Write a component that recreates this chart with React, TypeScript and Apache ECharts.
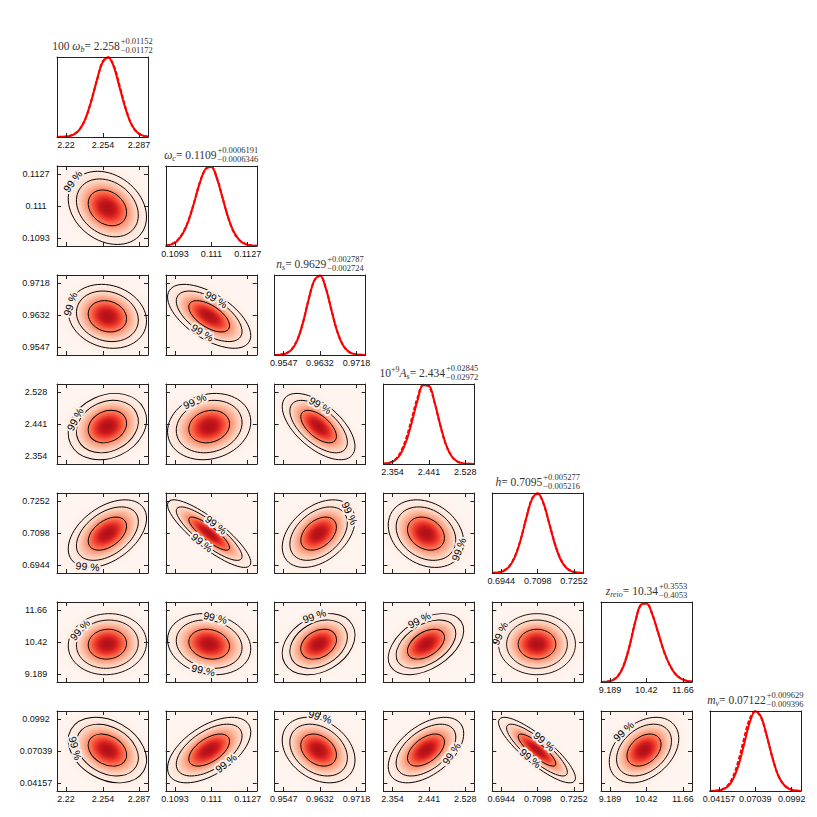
import React, { useEffect, useRef } from "react";
import * as echarts from "echarts";

// ---------------- data ----------------
const paramTicks: string[][] = [
  ["2.22", "2.254", "2.287"],
  ["0.1093", "0.111", "0.1127"],
  ["0.9547", "0.9632", "0.9718"],
  ["2.354", "2.441", "2.528"],
  ["0.6944", "0.7098", "0.7252"],
  ["9.189", "10.42", "11.66"],
  ["0.04157", "0.07039", "0.0992"],
];
const means = [2.258, 0.1109, 0.9629, 2.434, 0.7095, 10.34, 0.07122];
const errPlus = [0.01152, 0.0006191, 0.002787, 0.02845, 0.005277, 0.3553, 0.009629];
const errMinus = [0.01172, 0.0006346, 0.002724, 0.02972, 0.005216, 0.4053, 0.009396];

const correlations: number[][] = [
  [],
  [-0.25],
  [-0.15, -0.6],
  [0.2, 0.15, -0.6],
  [0.45, -0.85, 0.4, -0.25],
  [0.05, -0.15, 0.3, 0.45, 0.0],
  [-0.3, 0.55, -0.3, 0.5, -0.85, 0.35],
];

// 1D posteriors, 17 samples evenly spread across each axis range
const posteriorSolid: number[][] = [
  [0.0004, 0.002, 0.0093, 0.032, 0.095, 0.227, 0.44, 0.71, 0.93, 0.998, 0.874, 0.62, 0.364, 0.17, 0.065, 0.02, 0.005],
  [0.006, 0.021, 0.063, 0.155, 0.316, 0.547, 0.793, 0.966, 0.987, 0.84, 0.595, 0.35, 0.171, 0.069, 0.024, 0.0068, 0.0016],
  [0.0007, 0.0043, 0.019, 0.068, 0.187, 0.407, 0.696, 0.936, 0.993, 0.835, 0.558, 0.296, 0.125, 0.042, 0.011, 0.0024, 0.0004],
  [0.0029, 0.0122, 0.043, 0.122, 0.282, 0.523, 0.793, 0.985, 0.98, 0.771, 0.487, 0.244, 0.097, 0.031, 0.0079, 0.0016, 0.0003],
  [0.0014, 0.0066, 0.025, 0.08, 0.201, 0.413, 0.688, 0.923, 0.998, 0.877, 0.625, 0.364, 0.171, 0.065, 0.02, 0.0051, 0.0011],
  [0.0007, 0.0042, 0.02, 0.073, 0.205, 0.44, 0.744, 0.967, 0.982, 0.849, 0.63, 0.4, 0.223, 0.106, 0.044, 0.015, 0.0046],
  [0.0005, 0.0027, 0.0125, 0.046, 0.135, 0.31, 0.576, 0.85, 0.996, 0.93, 0.697, 0.42, 0.2, 0.079, 0.025, 0.0062, 0.0012],
];
const posteriorDashed: number[][] = [
  [0.0005, 0.003, 0.011, 0.035, 0.1, 0.23, 0.45, 0.7, 0.94, 0.995, 0.89, 0.645, 0.38, 0.175, 0.062, 0.02, 0.005],
  [0.007, 0.024, 0.07, 0.165, 0.325, 0.55, 0.8, 0.96, 0.99, 0.85, 0.6, 0.345, 0.165, 0.07, 0.026, 0.008, 0.002],
  [0.0008, 0.005, 0.021, 0.072, 0.19, 0.41, 0.7, 0.93, 0.99, 0.84, 0.56, 0.3, 0.128, 0.044, 0.012, 0.003, 0.0005],
  [0.004, 0.016, 0.052, 0.145, 0.32, 0.57, 0.83, 0.99, 0.97, 0.765, 0.48, 0.24, 0.095, 0.03, 0.008, 0.002, 0.0004],
  [0.0016, 0.007, 0.027, 0.085, 0.21, 0.42, 0.69, 0.93, 0.99, 0.87, 0.63, 0.375, 0.18, 0.068, 0.021, 0.005, 0.001],
  [0.0008, 0.005, 0.022, 0.078, 0.215, 0.45, 0.75, 0.96, 0.985, 0.85, 0.625, 0.395, 0.225, 0.11, 0.045, 0.015, 0.005],
  [0.0006, 0.0035, 0.016, 0.058, 0.165, 0.37, 0.65, 0.9, 0.995, 0.92, 0.69, 0.42, 0.2, 0.08, 0.026, 0.006, 0.0012],
];

// contour radii (in sigma units) and "99 %" label spots [row, col, angleDeg, radius]
const contourLevels = [1.52, 2.45, 3.1];
const contourLabelSpots: number[][] = [
  [1, 0, 180, 3.2],
  [2, 0, 180, 3.0],
  [2, 1, 95, 2.45], [2, 1, 275, 2.45],
  [3, 0, 135, 2.8],
  [3, 1, 100, 2.8],
  [3, 2, 110, 2.6],
  [4, 0, 215, 3.0],
  [4, 1, 90, 2.45], [4, 1, 270, 2.45],
  [4, 2, -10, 2.8],
  [4, 3, 10, 2.8],
  [5, 0, 140, 2.7],
  [5, 1, 90, 2.8], [5, 1, 270, 2.8],
  [5, 2, 75, 3.1],
  [5, 3, 80, 3.1],
  [5, 4, 160, 3.2],
  [6, 0, 215, 2.6],
  [6, 1, 280, 2.6],
  [6, 2, 115, 3.3],
  [6, 3, 300, 2.6],
  [6, 4, 90, 2.45], [6, 4, 270, 2.45],
  [6, 5, 95, 3.2],
];

// title pieces: [text, style] ; style: n normal, i italic, s small italic (subscript), p small (superscript)
const titleTokens: string[][][] = [
  [["100 ", "n"], ["ω", "i"], ["b", "s"]],
  [["ω", "i"], ["c", "s"]],
  [["n", "i"], ["s", "s"]],
  [["10", "n"], ["+9", "p"], ["A", "i"], ["s", "s"]],
  [["h", "i"]],
  [["z", "i"], ["reio", "s"]],
  [["m", "i"], ["ν", "s"]],
];

// ---------------- styling / layout ----------------
const N = 7;
const PANEL_W = 91;
const PANEL_H = 80;
const panelLeft = (j: number) => 57 + 108.8 * j;
const panelTop = (i: number) => 57 + 109 * i;
const BG = "#fff5f0";
const REDS = ["#fff5f0", "#fee0d2", "#fcbba1", "#fc9272", "#fb6a4a", "#ef3b2c", "#cb181d", "#a50f15", "#67000d"];
const RMAX = 4.2;
const VMAX = 0.84;
const GAMMA = 0.62;

const tickValues = paramTicks.map((t) => t.map(Number));
const ranges = tickValues.map((t) => {
  const span = t[2] - t[0];
  return [t[0] - span / 8, t[2] + span / 8];
});
const sigmas = errPlus.map((p, k) => (p + errMinus[k]) / 2);

function hexRgb(h: string) {
  return [parseInt(h.slice(1, 3), 16), parseInt(h.slice(3, 5), 16), parseInt(h.slice(5, 7), 16)];
}
function reds(v: number) {
  const x = Math.max(0, Math.min(1, v)) * (REDS.length - 1);
  const i = Math.min(Math.floor(x), REDS.length - 2);
  const f = x - i;
  const a = hexRgb(REDS[i]);
  const b = hexRgb(REDS[i + 1]);
  const c = a.map((av, k) => Math.round(av + (b[k] - av) * f));
  return `rgb(${c[0]},${c[1]},${c[2]})`;
}
const gradientStops = Array.from({ length: 31 }, (_, k) => {
  const r = (RMAX * k) / 30;
  const d = Math.exp((-r * r) / 2);
  return { offset: k / 30, color: reds(VMAX * Math.pow(d, GAMMA)) };
});

function labelFormatter(j: number) {
  return (v: number) => {
    const vals = tickValues[j];
    let bi = 0;
    for (let k = 1; k < vals.length; k++) if (Math.abs(vals[k] - v) < Math.abs(vals[bi] - v)) bi = k;
    return paramTicks[j][bi];
  };
}

const lineCol = "#222";

function makeRender(rho: number, spots: number[][]) {
  return (_params: any, api: any) => {
    const mx = api.value(0);
    const my = api.value(1);
    const c = api.coord([mx, my]);
    const sz = api.size([api.value(2), api.value(3)], [mx, my]);
    const px = sz[0];
    const py = sz[1];
    const a = px * px;
    const cc = py * py;
    const b = -rho * px * py;
    const theta = 0.5 * Math.atan2(2 * b, a - cc);
    const tmp = Math.sqrt(((a - cc) / 2) ** 2 + b * b);
    const A = Math.sqrt((a + cc) / 2 + tmp);
    const B = Math.sqrt(Math.max((a + cc) / 2 - tmp, 0.01));
    const children: any[] = [];
    children.push({
      type: "circle",
      x: c[0],
      y: c[1],
      rotation: -theta,
      scaleX: A,
      scaleY: B,
      shape: { cx: 0, cy: 0, r: RMAX },
      style: { fill: { type: "radial", x: 0.5, y: 0.5, r: 0.5, colorStops: gradientStops, global: false } },
    });
    for (const r of contourLevels) {
      children.push({
        type: "ellipse",
        x: c[0],
        y: c[1],
        rotation: -theta,
        shape: { cx: 0, cy: 0, rx: A * r, ry: B * r },
        style: { fill: "none", stroke: "#000", lineWidth: 0.9 },
      });
    }
    const ct = Math.cos(theta);
    const st = Math.sin(theta);
    for (const [t, r] of spots) {
      const tr = (t * Math.PI) / 180;
      const lx = A * r * Math.cos(tr);
      const ly = -B * r * Math.sin(tr);
      const X = c[0] + ct * lx - st * ly;
      const Y = c[1] + st * lx + ct * ly;
      const dlx = -A * Math.sin(tr);
      const dly = -B * Math.cos(tr);
      const dX = ct * dlx - st * dly;
      const dY = st * dlx + ct * dly;
      let phi = Math.atan2(dY, dX);
      if (phi > Math.PI / 2) phi -= Math.PI;
      if (phi <= -Math.PI / 2) phi += Math.PI;
      const base = {
        text: "99 %",
        font: '10.5px "Liberation Sans"',
        align: "center",
        verticalAlign: "middle",
      };
      children.push({
        type: "text",
        x: X,
        y: Y,
        rotation: -phi,
        style: { ...base, fill: "#fdf0ea", stroke: "#fdf0ea", lineWidth: 4 },
      });
      children.push({ type: "text", x: X, y: Y, rotation: -phi, style: { ...base, fill: "#000" } });
    }
    return { type: "group", children };
  };
}

function buildOption() {
  const grids: any[] = [];
  const xAxes: any[] = [];
  const yAxes: any[] = [];
  const series: any[] = [];
  const tickStyle = { color: lineCol, width: 1 };
  const axisLine = { show: true, onZero: false, lineStyle: { color: lineCol, width: 1 } };
  const labelStyle = { fontSize: 9, fontFamily: "Liberation Sans", color: "#111" };

  for (let i = 0; i < N; i++) {
    for (let j = 0; j <= i; j++) {
      const gi = grids.length;
      const diag = i === j;
      grids.push({
        left: panelLeft(j),
        top: panelTop(i),
        width: PANEL_W,
        height: PANEL_H,
        show: true,
        backgroundColor: diag ? "#ffffff" : BG,
        borderWidth: 0,
        containLabel: false,
        outerBoundsMode: "none",
      });
      const xr = ranges[j];
      const showX = diag || i === N - 1;
      xAxes.push({
        type: "value",
        gridIndex: gi,
        position: "bottom",
        min: xr[0],
        max: xr[1],
        z: 5,
        axisLine,
        axisTick: { show: true, inside: true, length: 4, customValues: tickValues[j], lineStyle: tickStyle },
        axisLabel: { show: showX, customValues: tickValues[j], formatter: labelFormatter(j), margin: 3, hideOverlap: false, ...labelStyle },
        splitLine: { show: false },
      });
      const bx = xAxes.length - 1;
      xAxes.push({
        type: "value",
        gridIndex: gi,
        position: "top",
        min: xr[0],
        max: xr[1],
        z: 5,
        axisLine,
        axisTick: { show: !diag, inside: true, length: 4, customValues: tickValues[j], lineStyle: tickStyle },
        axisLabel: { show: false },
        splitLine: { show: false },
      });
      if (diag) {
        yAxes.push({ type: "value", gridIndex: gi, position: "left", min: 0, max: 1, z: 5, axisLine, axisTick: { show: false }, axisLabel: { show: false }, splitLine: { show: false } });
        const by = yAxes.length - 1;
        yAxes.push({ type: "value", gridIndex: gi, position: "right", min: 0, max: 1, z: 5, axisLine, axisTick: { show: false }, axisLabel: { show: false }, splitLine: { show: false } });
        const xs = posteriorSolid[i].map((_, k) => xr[0] + ((xr[1] - xr[0]) * k) / (posteriorSolid[i].length - 1));
        series.push({
          type: "line",
          xAxisIndex: bx,
          yAxisIndex: by,
          data: xs.map((x, k) => [x, posteriorDashed[i][k]]),
          smooth: 0.35,
          symbol: "none",
          silent: true,
          lineStyle: { color: "#ff0000", width: 2, type: [4, 2] },
          z: 3,
        });
        series.push({
          type: "line",
          xAxisIndex: bx,
          yAxisIndex: by,
          data: xs.map((x, k) => [x, posteriorSolid[i][k]]),
          smooth: 0.35,
          symbol: "none",
          silent: true,
          lineStyle: { color: "#ff0000", width: 2 },
          z: 4,
        });
      } else {
        const yr = ranges[i];
        yAxes.push({
          type: "value",
          gridIndex: gi,
          position: "left",
          min: yr[0],
          max: yr[1],
          z: 5,
          axisLine,
          axisTick: { show: true, inside: true, length: 4, customValues: tickValues[i], lineStyle: tickStyle },
          axisLabel: { show: j === 0, customValues: tickValues[i], formatter: labelFormatter(i), margin: 21, align: "center", hideOverlap: false, ...labelStyle },
          splitLine: { show: false },
        });
        const by = yAxes.length - 1;
        yAxes.push({
          type: "value",
          gridIndex: gi,
          position: "right",
          min: yr[0],
          max: yr[1],
          z: 5,
          axisLine,
          axisTick: { show: true, inside: true, length: 4, customValues: tickValues[i], lineStyle: tickStyle },
          axisLabel: { show: false },
          splitLine: { show: false },
        });
        const spots = contourLabelSpots.filter((s) => s[0] === i && s[1] === j).map((s) => [s[2], s[3]]);
        series.push({
          type: "custom",
          xAxisIndex: bx,
          yAxisIndex: by,
          clip: true,
          silent: true,
          z: 2,
          encode: { x: 0, y: 1 },
          data: [[means[j], means[i], sigmas[j], sigmas[i]]],
          renderItem: makeRender(correlations[i][j], spots),
        });
      }
    }
  }

  // titles above the diagonal panels
  const canvas = document.createElement("canvas");
  const ctx = canvas.getContext("2d")!;
  const fonts: Record<string, string> = {
    n: '11.5px "Liberation Serif"',
    i: 'italic 11.5px "Liberation Serif"',
    s: 'italic 8px "Liberation Serif"',
    p: '8px "Liberation Serif"',
    e: '8.5px "Liberation Serif"',
  };
  const dys: Record<string, number> = { n: 0, i: 0, s: 3.2, p: -4 };
  const width = (t: string, f: string) => {
    ctx.font = f;
    return ctx.measureText(t).width;
  };
  const graphic: any[] = [];
  for (let i = 0; i < N; i++) {
    const toks = [...titleTokens[i], ["= " + String(means[i]), "n"]];
    const plus = "+" + String(errPlus[i]);
    const minus = "−" + String(errMinus[i]);
    const wMain = toks.reduce((s, t) => s + width(t[0], fonts[t[1]]), 0);
    const wErr = Math.max(width(plus, fonts.e), width(minus, fonts.e));
    const total = wMain + 1 + wErr;
    const cx = panelLeft(i) + PANEL_W / 2;
    const baseY = panelTop(i) - 11;
    let x = cx - total / 2;
    for (const t of toks) {
      graphic.push({
        type: "text",
        x,
        y: baseY + dys[t[1]],
        style: { text: t[0], font: fonts[t[1]], fill: "#333", align: "left", verticalAlign: "middle" },
      });
      x += width(t[0], fonts[t[1]]);
    }
    x += 1;
    graphic.push({ type: "text", x, y: baseY - 4.6, style: { text: plus, font: fonts.e, fill: "#333", align: "left", verticalAlign: "middle" } });
    graphic.push({ type: "text", x, y: baseY + 4.4, style: { text: minus, font: fonts.e, fill: "#333", align: "left", verticalAlign: "middle" } });
  }

  return {
    animation: false,
    backgroundColor: "#ffffff",
    textStyle: { fontFamily: "Liberation Sans" },
    grid: grids,
    xAxis: xAxes,
    yAxis: yAxes,
    series,
    graphic,
  };
}

export default function App() {
  const ref = useRef<HTMLDivElement>(null);
  useEffect(() => {
    document.body.style.margin = "0";
    if (!ref.current) return;
    const chart = echarts.init(ref.current, undefined, { renderer: "svg" });
    chart.setOption(buildOption() as any);
    return () => chart.dispose();
  }, []);
  return <div ref={ref} style={{ width: 817, height: 817 }} />;
}
